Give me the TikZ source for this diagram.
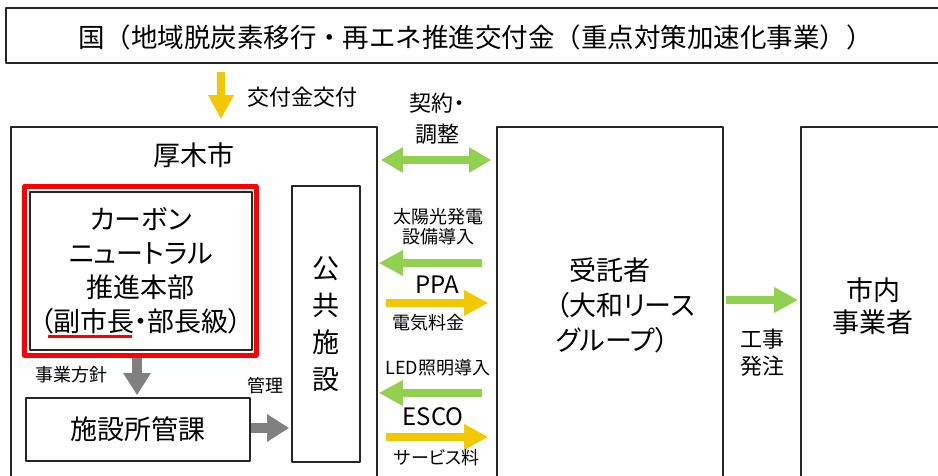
\documentclass[tikz,border=0pt]{standalone}
\usepackage{fontspec}
\setmainfont{Noto Sans CJK JP}[RawFeature=+palt]
\newfontfamily\fulljp{Noto Sans CJK JP}
\usetikzlibrary{arrows.meta}
\definecolor{grn}{RGB}{146,208,80}
\definecolor{ylw}{RGB}{242,200,0}
\definecolor{gry}{RGB}{128,128,128}
\begin{document}
\begin{tikzpicture}[x=1pt,y=-1pt,line join=round,
	box/.style={draw=black!85,line width=1.6pt,inner sep=0pt},
	big/.style={font=\fontsize{27}{35}\selectfont,align=center},
	mid/.style={font=\fontsize{22}{31}\selectfont,align=center},
	small/.style={font=\fontsize{18}{20}\selectfont,align=center},
	fat/.style={line width=8pt,-{Triangle[length=24pt,width=24pt]}},
	garrow/.style={fat,draw=grn,color=grn},
	yarrow/.style={fat,draw=ylw,color=ylw},
	karrow/.style={line width=10pt,draw=gry,color=gry,-{Triangle[length=22pt,width=26pt]}},
	g2arrow/.style={line width=8pt,draw=grn,color=grn,{Triangle[length=22pt,width=24pt]}-{Triangle[length=22pt,width=24pt]}}]
	\useasboundingbox (0,0) rectangle (938,476);
	%Khung tren cung
	\node[box,minimum width=939pt,minimum height=55pt] (kuni) at (475.5,35.5) {};
	\node[font=\fulljp\fontsize{26.5}{30}\selectfont] (kunitext) at (475.5,37) {国（地域脱炭素移行・再エネ推進交付金（重点対策加速化事業））};
	%Cac khung lon
	\node[box,minimum width=366pt,minimum height=363pt] (atsugi) at (194,308.5) {};
	\node[big] (atsugitext) at (194,155) {厚木市};
	\node[box,minimum width=226pt,minimum height=363pt] (jutaku) at (610,308.5) {};
	\node[big,align=left,anchor=west] (jutakutext) at (552,305) {\hspace{14pt}受託者\\（大和リース\\グループ）};
	\node[box,minimum width=144pt,minimum height=363pt] (jigyo) at (873,308.5) {};
	\node[big,font=\fontsize{27}{32}\selectfont] (jigyotext) at (873,306) {市内\\事業者};
	%Khung ben trong Atsugi
	\node[draw=red,line width=5pt,minimum width=232pt,minimum height=168pt] (cnred) at (140,271) {};
	\node[box,minimum width=222pt,minimum height=158pt,font=\fontsize{27}{34}\selectfont,align=center] (cn) at (141,271) {カーボン\\ニュートラル\\推進本部\\（副市長・部長級）};
	\draw[red,line width=3pt] (48,336)--(132,336);
	\node[box,minimum width=224pt,minimum height=63pt,big] (kanka) at (138,429.5) {施設所管課};
	\node[box,minimum width=68pt,minimum height=276pt,big,font=\fontsize{27}{37}\selectfont] (koukyo) at (326,324) {公\\共\\施\\設};
	%Mui ten
	\coordinate (k1) at (221,63);
	\draw[yarrow,shorten <=9pt,shorten >=7pt] (k1)--(k1 |- atsugi.north);
	\draw[g2arrow,shorten <=3pt,shorten >=5pt] (atsugi.east |- 0,160)--(jutaku.west |- 0,160);
	\foreach \y in {263,393} \draw[garrow,shorten <=14pt,shorten >=1pt] (jutaku.west |- 0,\y)--(atsugi.east |- 0,\y);
	\foreach \y in {303,437} \draw[yarrow,shorten <=8pt,shorten >=8pt] (atsugi.east |- 0,\y)--(jutaku.west |- 0,\y);
	\draw[garrow,shorten <=2pt,shorten >=2pt] (jutaku.east |- 0,300)--(jigyo.west |- 0,300);
	\draw[karrow,shorten >=2pt] (cnred.south -| 137,0)--(kanka.north -| 137,0);
	\draw[karrow,shorten >=2pt] (kanka.east |- 0,428)--(koukyo.west |- 0,428);
	%Nhan
	\node[mid] (kofu) at (302,97) {交付金交付};
	\node[mid] (keiyaku) at (437,119) {契約・\\調整};
	\node[small] (taiyo) at (438,227) {太陽光発電\\設備導入};
	\node[mid,font=\fontsize{24}{28}\selectfont] (ppa) at (437,285) {PPA};
	\node[small] (denki) at (428,323) {電気料金};
	\node[small] (led) at (438,368) {LED照明導入};
	\node[mid,font=\fontsize{24}{28}\selectfont] (esco) at (433,417) {ESCO};
	\node[small] (service) at (437,458) {サービス料};
	\node[small] (hoshin) at (71,375) {事業方針};
	\node[small] (kanri) at (265,386) {管理};
	\node[mid,font=\fontsize{22}{27}\selectfont] (koji) at (762,353) {工事\\発注};
\end{tikzpicture}
\end{document}
